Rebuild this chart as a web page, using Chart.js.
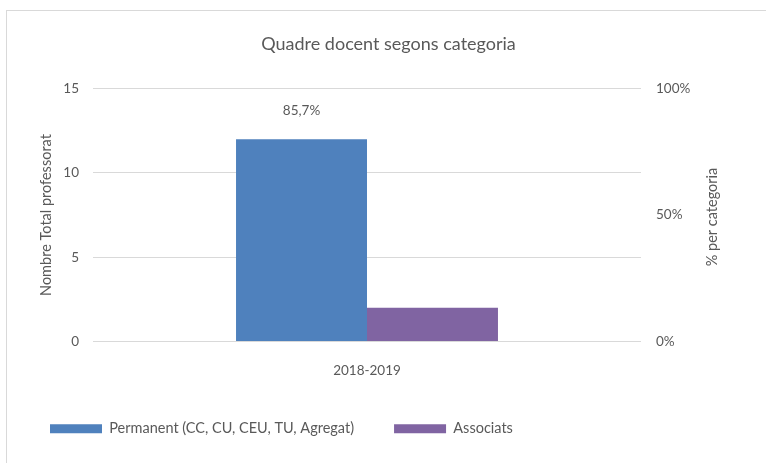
<!DOCTYPE html>
<html lang="ca">
<head>
  <meta charset="UTF-8">
  <title>Quadre docent segons categoria</title>
  <script src="https://cdn.jsdelivr.net/npm/chart.js"></script>
  <style>
    html, body { margin: 0; padding: 0; overflow: hidden; background: #fff; }
    .chart-box {
      position: absolute;
      left: 6px;
      top: 10px;
      width: 762px;
      height: 480px;
      border: 1px solid #d9d9d9;
      box-sizing: border-box;
    }
  </style>
</head>
<body>
  <div class="chart-box">
    <canvas id="quadre"></canvas>
  </div>

  <script>
    const cursos = ['2018-2019'];
    const categories = ['Permanent (CC, CU, CEU, TU, Agregat)', 'Associats'];
    const professorat = [[12], [2]];
    const colors = ['#4f81bd', '#8064a2'];
    const leftTicks = [0, 5, 10, 15];
    const rightTicks = [0, 50, 100];

    const FONT = 'Lato, "Open Sans", sans-serif';
    const GREY = '#595959';

    // percentage of the first category over the total, shown above its bar
    const total = professorat[0][0] + professorat[1][0];
    const pctLabel = (professorat[0][0] / total * 100).toFixed(1).replace('.', ',') + '%';

    const extraText = {
      id: 'extraText',
      afterDatasetsDraw(chart) {
        const ctx = chart.ctx;
        const bar = chart.getDatasetMeta(0).data[0];
        ctx.save();
        ctx.fillStyle = GREY;
        ctx.font = '13.5px ' + FONT;
        ctx.textAlign = 'center';
        ctx.textBaseline = 'middle';
        ctx.fillText(pctLabel, bar.x, bar.y - 29);

        // right axis title, read bottom to top
        const y1 = chart.scales.y1;
        const area = chart.chartArea;
        ctx.font = '14.5px ' + FONT;
        ctx.translate(y1.left + 71, (area.top + area.bottom) / 2 + 2);
        ctx.rotate(-Math.PI / 2);
        ctx.fillText('% per categoria', 0, 0);
        ctx.restore();
      }
    };

    new Chart(document.getElementById('quadre'), {
      type: 'bar',
      data: {
        labels: cursos,
        datasets: categories.map((c, i) => ({
          label: c,
          data: professorat[i],
          backgroundColor: colors[i],
          barPercentage: 1,
          categoryPercentage: 0.478
        }))
      },
      options: {
        responsive: true,
        maintainAspectRatio: false,
        animation: false,
        layout: { padding: { left: 3, right: 0, top: 0, bottom: 43 } },
        plugins: {
          title: {
            display: true,
            text: 'Quadre docent segons categoria',
            color: GREY,
            font: { family: FONT, size: 18, weight: 'normal' },
            padding: { top: 22, bottom: 34 }
          },
          legend: {
            position: 'bottom',
            align: 'start',
            labels: {
              boxWidth: 52,
              boxHeight: 9,
              padding: 40,
              color: GREY,
              font: { family: FONT, size: 14.5 }
            }
          },
          tooltip: { enabled: false }
        },
        scales: {
          x: {
            afterFit(s) { s.height = 40; },
            grid: { display: false },
            border: { display: false },
            ticks: { color: GREY, padding: 13, font: { family: FONT, size: 13.5 } }
          },
          y: {
            position: 'left',
            min: 0,
            max: 15,
            afterBuildTicks(s) { s.ticks = leftTicks.map(v => ({ value: v })); },
            afterFit(s) { s.width = 83; },
            grid: { color: '#d9d9d9', drawTicks: false },
            border: { display: false },
            ticks: { color: GREY, padding: 14, font: { family: FONT, size: 13.5 } },
            title: {
              display: true,
              text: 'Nombre Total professorat',
              color: GREY,
              font: { family: FONT, size: 14.5 },
              padding: { top: 28, bottom: 0 }
            }
          },
          y1: {
            position: 'right',
            min: 0,
            max: 100,
            afterBuildTicks(s) { s.ticks = rightTicks.map(v => ({ value: v })); },
            afterFit(s) { s.width = 126; },
            grid: { display: false, drawTicks: false },
            border: { display: false },
            ticks: {
              color: GREY,
              padding: 15,
              font: { family: FONT, size: 13.5 },
              callback: v => v + '%'
            }
          }
        }
      },
      plugins: [extraText]
    });
  </script>
</body>
</html>
